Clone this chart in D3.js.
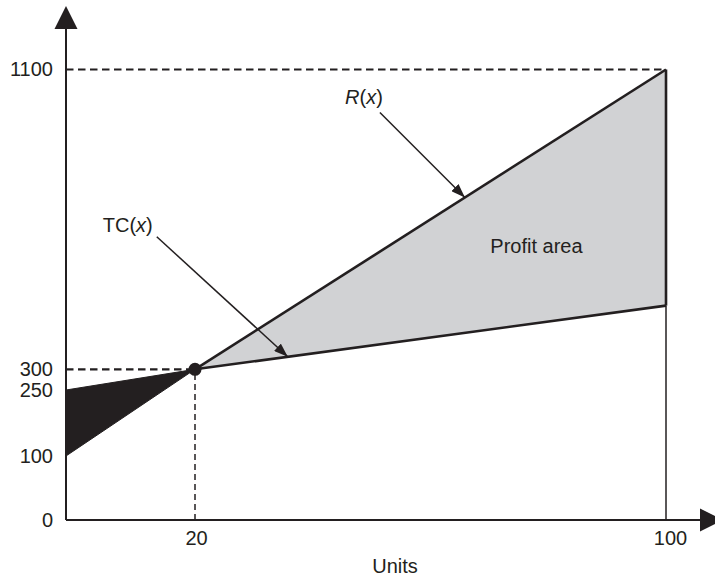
<!DOCTYPE html>
<html>
<head>
<meta charset="utf-8">
<script src="https://cdn.jsdelivr.net/npm/d3@7"></script>
<style>
  html, body { margin: 0; padding: 0; background: #fff; }
  svg { display: block; font-family: "Liberation Sans", Arial, Helvetica, sans-serif; }
  text { fill: #231f20; font-size: 20px; }
</style>
</head>
<body>
<svg id="chart" width="715" height="580"></svg>
<script>
// Break-even chart: revenue R(x) against total cost TC(x)
const unitTicks = [0, 20, 100];
const valueTicks = [0, 100, 250, 300, 1100];
const unitPoints = [0, 20, 100];
const revenue = [100, 300, 1100];   // R(x) at 0, 20, 100 units
const totalCost = [250, 300, 470];  // TC(x) at 0, 20, 100 units
const breakEven = [20, 300];        // units, value

const ink = "#231f20";
const profitFill = "#d1d2d4";

const svg = d3.select("#chart");

// The chart is schematic, so the scales are piecewise linear
const x = d3.scaleLinear().domain(unitTicks).range([66, 195, 666]);
const y = d3.scaleLinear().domain(valueTicks).range([520, 456, 390, 369.3, 69.5]);

const pt = (u, v) => [x(u), y(v)];
const line = d3.line();

const rPts = unitPoints.map((u, i) => pt(u, revenue[i]));
const cPts = unitPoints.map((u, i) => pt(u, totalCost[i]));
const be = pt(breakEven[0], breakEven[1]);

// Profit area (between R and TC beyond break-even)
svg.append("path")
  .attr("d", line([be, rPts[2], cPts[2]]) + "Z")
  .attr("fill", profitFill);

// Loss area (before break-even)
svg.append("path")
  .attr("d", line([cPts[0], be, rPts[0]]) + "Z")
  .attr("fill", ink)
  .attr("stroke", ink)
  .attr("stroke-width", 1);

// Reference dashed lines
const dashG = svg.append("g").attr("fill", "none").attr("stroke", ink);
dashG.append("path")
  .attr("d", line([pt(0, revenue[2]), rPts[2]]))
  .attr("stroke-width", 2.2).attr("stroke-dasharray", "7.5,4.5");
dashG.append("path")
  .attr("d", line([pt(0, breakEven[1]), be]))
  .attr("stroke-width", 2.2).attr("stroke-dasharray", "7.5,4.5");
dashG.append("path")
  .attr("d", line([pt(breakEven[0], 0), be]))
  .attr("stroke-width", 1.5).attr("stroke-dasharray", "6,4");

// Revenue and cost lines past break-even
svg.append("path").attr("d", line([be, rPts[2]]))
  .attr("fill", "none").attr("stroke", ink).attr("stroke-width", 2.6);
svg.append("path").attr("d", line([be, cPts[2]]))
  .attr("fill", "none").attr("stroke", ink).attr("stroke-width", 2.6);

// Vertical at 100 units
svg.append("path").attr("d", line([pt(100, 0), cPts[2]]))
  .attr("fill", "none").attr("stroke", ink).attr("stroke-width", 1.5);
svg.append("path").attr("d", line([cPts[2], rPts[2]]))
  .attr("fill", "none").attr("stroke", ink).attr("stroke-width", 2.6);

// Axes
const x0 = x(0), y0 = y(0);
const yTop = 6, xRight = 723, head = 23, half = 11.5;
svg.append("line").attr("x1", x0).attr("y1", y0).attr("x2", x0).attr("y2", yTop + head)
  .attr("stroke", ink).attr("stroke-width", 2);
svg.append("path")
  .attr("d", `M${x0},${yTop} L${x0 + half},${yTop + head} L${x0 - half},${yTop + head} Z`)
  .attr("fill", ink);
svg.append("line").attr("x1", x0).attr("y1", y0).attr("x2", xRight - head).attr("y2", y0)
  .attr("stroke", ink).attr("stroke-width", 2);
svg.append("path")
  .attr("d", `M${xRight},${y0} L${xRight - head},${y0 - half} L${xRight - head},${y0 + half} Z`)
  .attr("fill", ink);

// Tick labels via d3 axes (no tick marks, no domain path)
const yAxis = svg.append("g").attr("transform", `translate(${x0},0)`)
  .call(d3.axisLeft(y).tickValues(valueTicks).tickFormat(d3.format("d")).tickSize(0).tickPadding(13));
yAxis.select(".domain").remove();
yAxis.selectAll("text").attr("font-size", 20).attr("font-family", null).attr("fill", ink);

const xAxis = svg.append("g").attr("transform", `translate(0,${y0})`)
  .call(d3.axisBottom(x).tickValues(unitTicks.filter(d => d > 0)).tickFormat(d3.format("d")).tickSize(0).tickPadding(11));
xAxis.select(".domain").remove();
xAxis.selectAll("text").attr("font-size", 20).attr("font-family", null).attr("fill", ink)
  .attr("dx", d => d === 100 ? 4 : 1);

svg.append("text").attr("x", 395).attr("y", 573).attr("text-anchor", "middle").text("Units");

// Break-even point
svg.append("circle").attr("cx", be[0]).attr("cy", be[1]).attr("r", 6.5).attr("fill", ink);

// Profit area label
svg.append("text").attr("x", x(78)).attr("y", y(300) - 116)
  .attr("text-anchor", "middle").text("Profit area");

// Callout arrows
const defs = svg.append("defs");
defs.append("marker").attr("id", "tip")
  .attr("markerUnits", "userSpaceOnUse")
  .attr("viewBox", "0 0 14 10").attr("markerWidth", 14).attr("markerHeight", 10)
  .attr("refX", 14).attr("refY", 5).attr("orient", "auto")
  .append("path").attr("d", "M0,0 L14,5 L0,10 Z").attr("fill", ink);

const callouts = [
  { seg: [be, rPts[2]], t: 0.573, dx: -85, dy: -85, main: "R", mainItalic: true, lx: 3, ly: -9 },
  { seg: [be, cPts[2]], t: 0.197, dx: -131, dy: -120, main: "TC", mainItalic: false, lx: -4, ly: -5 }
];
callouts.forEach(c => {
  const tip = d3.interpolateArray(c.seg[0], c.seg[1])(c.t);
  const start = [tip[0] + c.dx, tip[1] + c.dy];
  svg.append("line")
    .attr("x1", start[0]).attr("y1", start[1]).attr("x2", tip[0]).attr("y2", tip[1])
    .attr("stroke", ink).attr("stroke-width", 1.5).attr("marker-end", "url(#tip)");
  const t = svg.append("text").attr("x", start[0] + c.lx).attr("y", start[1] + c.ly)
    .attr("text-anchor", "end");
  t.append("tspan").attr("font-style", c.mainItalic ? "italic" : null).text(c.main);
  t.append("tspan").text("(");
  t.append("tspan").attr("font-style", "italic").text("x");
  t.append("tspan").text(")");
});
</script>
</body>
</html>
